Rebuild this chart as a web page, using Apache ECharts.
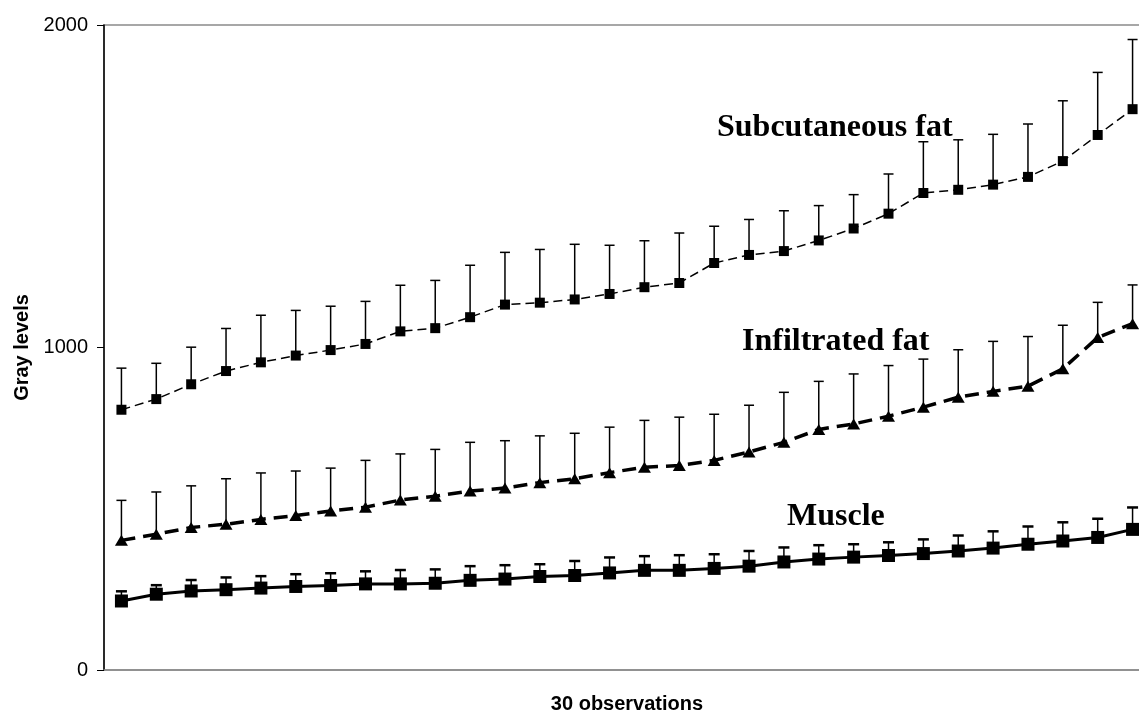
<!DOCTYPE html>
<html>
<head>
<meta charset="utf-8">
<script src="https://cdn.jsdelivr.net/npm/echarts@6/dist/echarts.min.js"></script>
<style>html,body{margin:0;padding:0;background:#fff;}#c{width:1139px;height:715px;}</style>
</head>
<body>
<div id="c"></div>
<script>
const categories = Array.from({length: 30}, (_, i) => String(i + 1));
const subMean  = [807,840,886,927,954,975,992,1011,1050,1060,1094,1133,1139,1149,1166,1187,1200,1262,1287,1299,1332,1369,1415,1479,1489,1505,1529,1578,1659,1739];
const subUpper = [936,951,1001,1059,1100,1115,1128,1143,1193,1208,1255,1295,1304,1320,1317,1331,1355,1376,1397,1424,1440,1474,1538,1638,1644,1661,1693,1765,1853,1955];
const infMean  = [402,421,442,452,467,479,493,505,527,539,555,564,581,593,612,629,634,650,676,706,746,763,787,815,846,864,880,934,1031,1074];
const infUpper = [526,552,571,593,611,617,626,650,670,684,706,711,726,734,753,774,784,793,821,861,895,918,944,964,993,1019,1034,1069,1140,1194];
const musMean  = [214,235,245,249,254,259,262,267,267,269,278,282,290,293,301,309,309,315,322,335,344,350,355,361,369,378,390,400,411,436];
const musUpper = [244,263,279,287,291,297,300,306,310,312,322,325,328,338,349,353,356,359,369,380,387,390,396,405,417,430,445,458,469,504];
const yTicks = [0, 1000, 2000];
const seriesLabels = ['Subcutaneous fat', 'Infiltrated fat', 'Muscle'];

function errData(mean, upper) {
  return mean.map((m, i) => [i, m, upper[i]]);
}
function errSeries(name, mean, upper, capW, capLW, stemLW) {
  return {
    type: 'custom',
    name: name + ' SD',
    data: errData(mean, upper),
    z: 1,
    silent: true,
    renderItem: function (params, api) {
      const x = api.value(0);
      const p0 = api.coord([x, api.value(1)]);
      const p1 = api.coord([x, api.value(2)]);
      return {
        type: 'group',
        children: [
          { type: 'line', shape: { x1: p0[0], y1: p0[1], x2: p1[0], y2: p1[1] }, style: { stroke: '#000', lineWidth: stemLW } },
          { type: 'line', shape: { x1: p1[0] - capW / 2, y1: p1[1], x2: p1[0] + capW / 2, y2: p1[1] }, style: { stroke: '#000', lineWidth: capLW } }
        ]
      };
    }
  };
}

const chart = echarts.init(document.getElementById('c'), null, { renderer: 'canvas' });
chart.setOption({
  animation: false,
  backgroundColor: '#fff',
  grid: { left: 104, top: 25, width: 1046, height: 645, outerBoundsMode: 'none', containLabel: false, show: true, borderColor: '#8a8a8a', borderWidth: 1.5, backgroundColor: 'transparent' },
  xAxis: {
    type: 'category',
    data: categories,
    boundaryGap: true,
    axisLine: { show: true, lineStyle: { color: '#8a8a8a', width: 1.5 } },
    axisTick: { show: false },
    axisLabel: { show: false },
    splitLine: { show: false },
    name: '30 observations',
    nameLocation: 'middle',
    nameGap: 24,
    nameTextStyle: { fontFamily: 'Liberation Sans, Arial, sans-serif', fontWeight: 'bold', fontSize: 20, color: '#000' }
  },
  yAxis: {
    type: 'value',
    min: yTicks[0],
    max: yTicks[yTicks.length - 1],
    interval: 1000,
    axisLine: { show: true, lineStyle: { color: '#000', width: 1.5 } },
    axisTick: { show: true, length: 7, lineStyle: { color: '#000', width: 1 } },
    axisLabel: { fontFamily: 'Liberation Sans, Arial, sans-serif', fontSize: 20, color: '#000', margin: 16, formatter: function (v) { return String(v); } },
    splitLine: { show: false },
    name: 'Gray levels',
    nameLocation: 'middle',
    nameGap: 65,
    nameTextStyle: { fontFamily: 'Liberation Sans, Arial, sans-serif', fontWeight: 'bold', fontSize: 20, color: '#000' }
  },
  series: [
    errSeries(seriesLabels[0], subMean, subUpper, 10, 1.5, 1.5),
    errSeries(seriesLabels[1], infMean, infUpper, 10, 1.5, 1.5),
    errSeries(seriesLabels[2], musMean, musUpper, 11, 2.5, 1.5),
    {
      type: 'line', name: seriesLabels[0], data: subMean, z: 3,
      symbol: 'rect', symbolSize: 10,
      itemStyle: { color: '#000' },
      lineStyle: { color: '#000', width: 1.5, type: [9, 5] }
    },
    {
      type: 'line', name: seriesLabels[1], data: infMean, z: 3,
      symbol: 'triangle', symbolSize: [13, 11],
      itemStyle: { color: '#000' },
      lineStyle: { color: '#000', width: 3.5, type: [14, 8] }
    },
    {
      type: 'line', name: seriesLabels[2], data: musMean, z: 3,
      symbol: 'rect', symbolSize: 13,
      itemStyle: { color: '#000' },
      lineStyle: { color: '#000', width: 3 }
    }
  ],
  graphic: [
    { type: 'text', left: 717, top: 112, style: { text: seriesLabels[0], fill: '#000', font: 'bold 32px "Liberation Serif", "Times New Roman", serif' } },
    { type: 'text', left: 742, top: 326, style: { text: seriesLabels[1], fill: '#000', font: 'bold 32px "Liberation Serif", "Times New Roman", serif' } },
    { type: 'text', left: 787, top: 501, style: { text: seriesLabels[2], fill: '#000', font: 'bold 32px "Liberation Serif", "Times New Roman", serif' } }
  ]
});
</script>
</body>
</html>
